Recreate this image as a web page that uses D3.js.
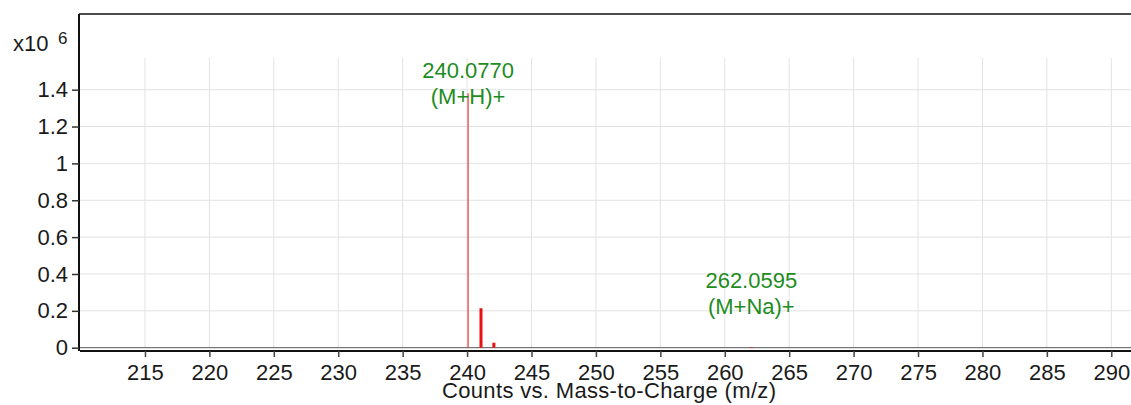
<!DOCTYPE html>
<html>
<head>
<meta charset="utf-8">
<script src="https://cdn.jsdelivr.net/npm/d3@7"></script>
<style>
  body { margin: 0; background: #fff; }
  svg { display: block; font-family: "Liberation Sans", Arial, sans-serif; }
</style>
</head>
<body>
<svg id="spectrum"></svg>
<script>
// peaks, intensities in x10^6 counts
const peakMz = [240.0770, 241.080, 242.080, 262.0595];
const peakCounts = [1.380, 0.214, 0.027, 0.003];

// annotated peaks
const labelMz = [240.0770, 262.0595];
const labelCounts = [1.380, 0.003];
const labelMass = ["240.0770", "262.0595"];
const labelIon = ["(M+H)+", "(M+Na)+"];

const xTicks = [215, 220, 225, 230, 235, 240, 245, 250, 255, 260, 265, 270, 275, 280, 285, 290];
const yTicks = [0, 0.2, 0.4, 0.6, 0.8, 1, 1.2, 1.4];
const yTickLabels = ["0", "0.2", "0.4", "0.6", "0.8", "1", "1.2", "1.4"];

const width = 1131, height = 405;
const svg = d3.select('#spectrum')
  .attr('width', width)
  .attr('height', height);

const plotLeft = 79, plotTop = 14, plotRight = width;
const fontSize = 22;

const x = d3.scaleLinear().domain([209.88, 291.53]).range([plotLeft, plotRight]);
const y = d3.scaleLinear().domain([0, 1.8106]).range([347.7, plotTop]);
const axisY = 351;

// grid
svg.append("g")
  .selectAll("line")
  .data(yTicks.filter(d => d > 0))
  .join("line")
  .attr("x1", plotLeft).attr("x2", plotRight)
  .attr("y1", d => y(d)).attr("y2", d => y(d))
  .attr("stroke", "#e2e2e2").attr("stroke-width", 1);

svg.append("g")
  .selectAll("line")
  .data(xTicks)
  .join("line")
  .attr("x1", d => x(d)).attr("x2", d => x(d))
  .attr("y1", y(1.572)).attr("y2", y(0))
  .attr("stroke", "#e2e2e2").attr("stroke-width", 1);

// frame
svg.append("line")
  .attr("x1", plotLeft).attr("x2", plotRight)
  .attr("y1", plotTop).attr("y2", plotTop)
  .attr("stroke", "#111").attr("stroke-width", 1.5);

svg.append("line")
  .attr("x1", plotLeft + 1).attr("x2", plotRight)
  .attr("y1", y(0)).attr("y2", y(0))
  .attr("stroke", "#555").attr("stroke-width", 1);

svg.append("line")
  .attr("x1", plotLeft + 1).attr("x2", plotRight)
  .attr("y1", axisY).attr("y2", axisY)
  .attr("stroke", "#111").attr("stroke-width", 2);

svg.append("line")
  .attr("x1", plotLeft).attr("x2", plotLeft)
  .attr("y1", plotTop).attr("y2", axisY)
  .attr("stroke", "#111").attr("stroke-width", 2);

// axes
const gy = svg.append("g")
  .attr("transform", `translate(${plotLeft},0)`)
  .call(d3.axisLeft(y).tickValues(yTicks)
    .tickFormat((d, i) => yTickLabels[i])
    .tickSize(7).tickPadding(4));
gy.select(".domain").remove();
gy.selectAll(".tick line").attr("stroke", "#333").attr("stroke-width", 1.5);
gy.selectAll("text")
  .attr("font-size", fontSize).attr("fill", "#1a1a1a")
  .attr("font-family", "Liberation Sans, Arial, sans-serif");

const gx = svg.append("g")
  .attr("transform", `translate(0,${axisY})`)
  .call(d3.axisBottom(x).tickValues(xTicks).tickSize(6).tickPadding(7));
gx.select(".domain").remove();
gx.selectAll(".tick line").attr("stroke", "#444").attr("stroke-width", 1.5);
gx.selectAll("text")
  .attr("font-size", fontSize).attr("fill", "#1a1a1a")
  .attr("font-family", "Liberation Sans, Arial, sans-serif");

// scale factor
svg.append("text")
  .attr("x", 13).attr("y", 51)
  .attr("font-size", fontSize).attr("fill", "#1a1a1a")
  .text("x10");
svg.append("text")
  .attr("x", 58).attr("y", 44)
  .attr("font-size", 17).attr("fill", "#1a1a1a")
  .text("6");

svg.append("text")
  .attr("x", 609).attr("y", 398)
  .attr("text-anchor", "middle")
  .attr("font-size", fontSize).attr("fill", "#1a1a1a")
  .attr("textLength", 334)
  .text("Counts vs. Mass-to-Charge (m/z)");

// peaks
svg.append("g")
  .selectAll("line")
  .data(peakMz)
  .join("line")
  .attr("x1", d => x(d)).attr("x2", d => x(d))
  .attr("y1", y(0))
  .attr("y2", (d, i) => y(peakCounts[i]))
  .attr("stroke", (d, i) => i === 0 ? "#e23a3a" : "#e81010")
  .attr("stroke-width", (d, i) => i === 0 ? 1.2 : 3);

// annotations
const labelFloor = 0.24;
const labels = svg.append("g")
  .selectAll("text")
  .data(labelMz)
  .join("text")
  .attr("text-anchor", "middle")
  .attr("font-size", fontSize)
  .attr("fill", "#1e8c1e")
  .attr("x", d => x(d))
  .attr("y", (d, i) => y(Math.max(labelCounts[i], labelFloor)) - 15);

labels.append("tspan")
  .text((d, i) => labelMass[i]);
labels.append("tspan")
  .attr("x", d => x(d))
  .attr("dy", 25.5)
  .text((d, i) => labelIon[i]);
</script>
</body>
</html>
